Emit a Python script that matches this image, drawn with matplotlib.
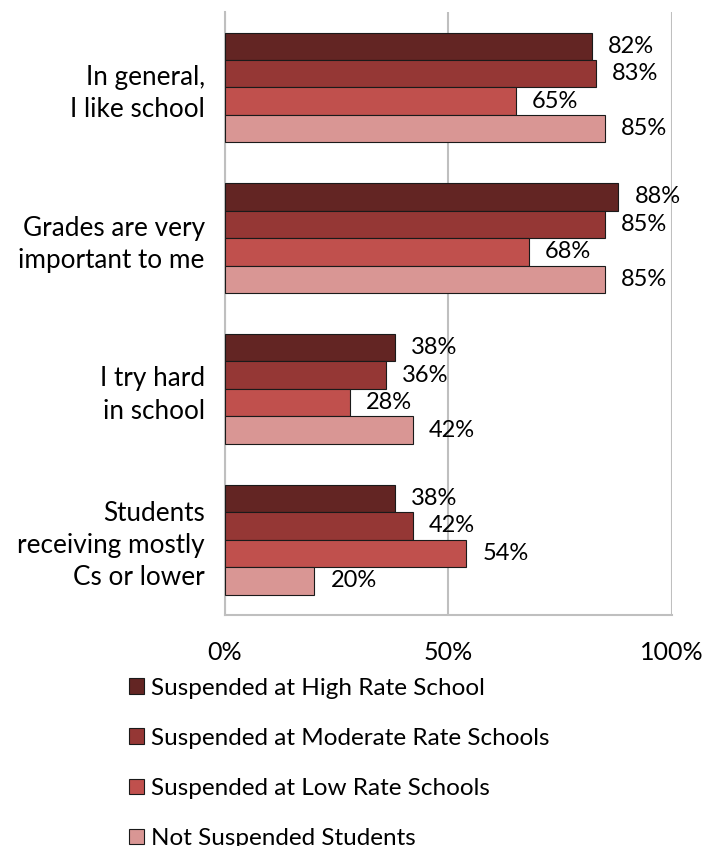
import numpy as np
import matplotlib.pyplot as plt
from matplotlib.patches import Patch

plt.rcParams['font.family'] = ['Lato', 'DejaVu Sans']

# Data
categories = ["In general,\nI like school",
              "Grades are very\nimportant to me",
              "I try hard\nin school",
              "Students\nreceiving mostly\nCs or lower"]
series = ["Suspended at High Rate School",
          "Suspended at Moderate Rate Schools",
          "Suspended at Low Rate Schools",
          "Not Suspended Students"]
high = [82, 88, 38, 38]
moderate = [83, 85, 36, 42]
low = [65, 68, 28, 54]
not_susp = [85, 85, 42, 20]
colors = ['#632523', '#953735', '#C0504D', '#D99694']

values = [high, moderate, low, not_susp]

fig = plt.figure(figsize=(7.04, 8.46), dpi=100)
ax = fig.add_axes([0.3196, 0.273, 0.6349, 0.7128])

bar_h = 0.182
y = np.arange(len(categories))
for i, (vals, col) in enumerate(zip(values, colors)):
    pos = y - 1.5 * bar_h + i * bar_h
    ax.barh(pos, vals, height=bar_h, color=col, edgecolor='#1a1a1a', linewidth=0.8, zorder=3)
    for p, v in zip(pos, vals):
        ax.text(v + 3.6, p, f"{v}%", va='center', ha='left', fontsize=17, color='black')

ax.set_xlim(0, 100)
ax.set_ylim(3.5, -0.5)
ax.set_xticks([0, 50, 100])
ax.set_xticklabels(["0%", "50%", "100%"], fontsize=18)
ax.set_yticks(y)
ax.set_yticklabels(categories, fontsize=18.8, ha='right', multialignment='right',
                   linespacing=1.36)
ax.tick_params(axis='both', length=0)
ax.tick_params(axis='x', pad=19)
ax.tick_params(axis='y', pad=14.5)
ax.grid(axis='x', color='#BFBFBF', linewidth=1.5, zorder=0)
for s in ['top', 'right']:
    ax.spines[s].set_visible(False)
for s in ['left', 'bottom']:
    ax.spines[s].set_color('#BFBFBF')
    ax.spines[s].set_linewidth(1.5)

handles = [Patch(facecolor=c, edgecolor='#1a1a1a', linewidth=0.8) for c in colors]
fig.legend(handles, series, loc='upper left', bbox_to_anchor=(0.166, 0.2135),
           frameon=False, fontsize=17.5, handlelength=0.6, handleheight=0.6,
           handletextpad=0.3, labelspacing=1.2, borderpad=0)

fig.savefig("out.png", dpi=100)
